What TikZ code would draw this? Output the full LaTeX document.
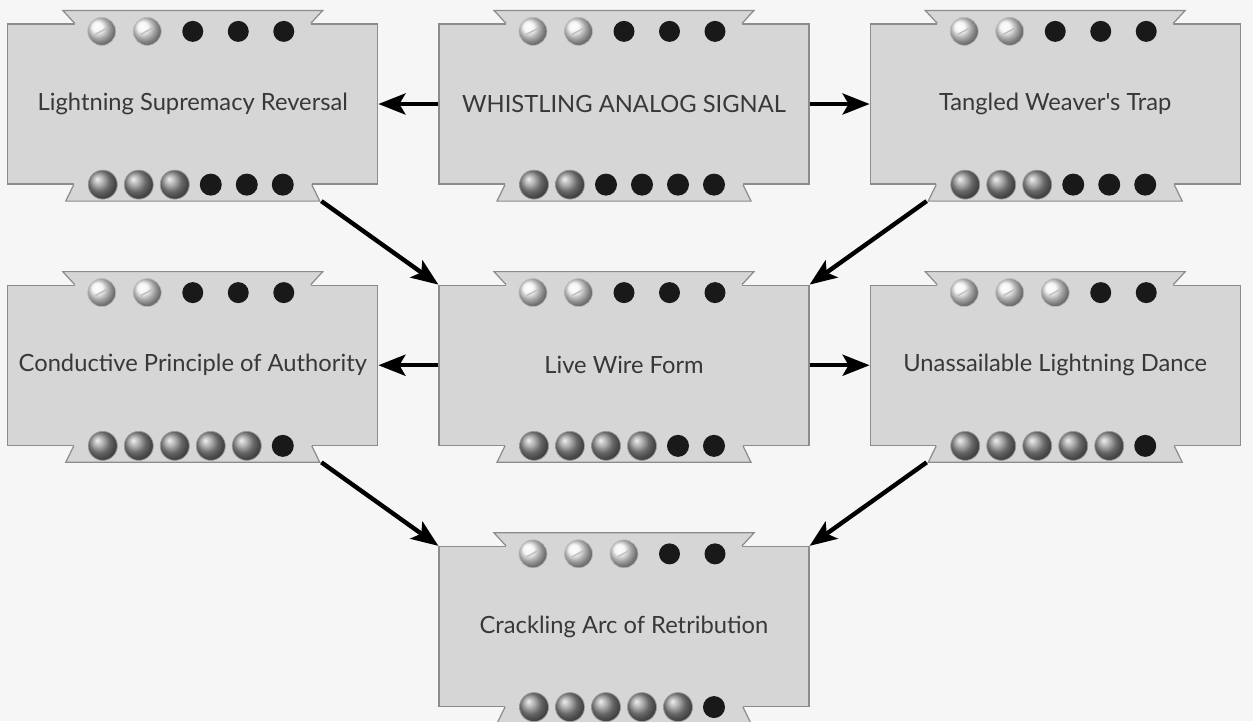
\documentclass[tikz,border=0pt]{standalone}
\usepackage{fontspec}
\usepackage{tikz}
\usetikzlibrary{positioning, arrows.meta}
\usepackage{xcolor}
\newfontfamily\skillfont{Lato}
\definecolor{paper}{RGB}{246,246,246}
\definecolor{boxgray}{RGB}{214,214,214}
\definecolor{edgegray}{RGB}{140,140,140}

\begin{document}
\begin{tikzpicture}[
    node distance=2cm and 1.2cm,
    skill/.style={rectangle, draw=edgegray, line width=0.7pt, fill=boxgray, minimum width=7.4cm, minimum height=3.2cm, inner sep=0pt, text=black!78, font=\skillfont\fontsize{13.5}{16}\selectfont},
    tabfill/.style={fill=boxgray},
    tabline/.style={draw=edgegray, line width=0.7pt},
    emptydot/.style={shading=ball, ball color=gray!10, draw=gray!55, line width=0.4pt},
    fulldot/.style={shading=ball, ball color=black!42, draw=gray!80, line width=0.4pt},
    blackdot/.style={fill=black!90},
    arrow/.style={-{Stealth[length=5.4mm, width=4.2mm, inset=1.2mm]}, line width=2.5pt}
]
    \fill[paper] (0,0) rectangle (25.06,-14.42);
    \useasboundingbox (0,0) rectangle (25.06,-14.42);

    % Nodes
    \node[skill] (whistle) at (12.48,-2.08) {WHISTLING ANALOG SIGNAL};
    \node[skill, left=of whistle] (supremacy) {Lightning Supremacy Reversal};
    \node[skill, right=of whistle] (weaver) {Tangled Weaver's Trap};
    \node[skill, below=of whistle] (livewire) {Live Wire Form};
    \node[skill, left=of livewire] (authority) {Conductive Principle of Authority};
    \node[skill, right=of livewire] (dance) {Unassailable Lightning Dance};
    \node[skill, below=of livewire] (retribution) {Crackling Arc of Retribution};

    % Tabs and sockets
    \foreach \n/\t/\b in {supremacy/2/3, whistle/2/2, weaver/2/3, authority/2/5, livewire/2/4, dance/3/5, retribution/3/5} {
        \path[tabfill] ([xshift=-2.36cm, yshift=-1pt]\n.north) -- ++(0,1pt) -- ++(-0.24,0.26) -- ++(5.2,0) -- ++(-0.24,-0.26) -- ++(0,-1pt) -- cycle;
        \draw[tabline] ([xshift=-2.36cm]\n.north) -- ++(-0.24,0.26) -- ++(5.2,0) -- ++(-0.24,-0.26);
        \path[tabfill] ([xshift=-2.38cm, yshift=1pt]\n.south) -- ++(0,-1pt) -- ++(-0.16,-0.33) -- ++(5.08,0) -- ++(-0.16,0.33) -- ++(0,1pt) -- cycle;
        \draw[tabline] ([xshift=-2.38cm]\n.south) -- ++(-0.16,-0.33) -- ++(5.08,0) -- ++(-0.16,0.33);
        \foreach \i in {1,...,5} {
            \ifnum\i>\t
                \fill[blackdot] ([xshift=(\i-3)*0.91cm, yshift=-0.16cm]\n.north) circle (0.21cm);
            \else
                \shade[emptydot] ([xshift=(\i-3)*0.91cm, yshift=-0.16cm]\n.north) circle (0.28cm);
                \draw[gray!50, line width=0.8pt] ([xshift=(\i-3)*0.91cm-0.13cm, yshift=-0.22cm]\n.north) -- ++(0.24,0.13);
            \fi
        }
        \foreach \i in {1,...,6} {
            \ifnum\i>\b
                \fill[blackdot] ([xshift=(\i-3.5)*0.72cm]\n.south) circle (0.22cm);
            \else
                \shade[fulldot] ([xshift=(\i-3.5)*0.72cm]\n.south) circle (0.29cm);
            \fi
        }
    }

    % Edges
    \draw[arrow] (whistle) -- (supremacy);
    \draw[arrow] (whistle) -- (weaver);
    \draw[arrow] ([xshift=-1.14cm, yshift=-0.33cm]supremacy.south east) -- (livewire.north west);
    \draw[arrow] ([xshift=1.14cm, yshift=-0.33cm]weaver.south west) -- (livewire.north east);
    \draw[arrow] (livewire) -- (authority);
    \draw[arrow] (livewire) -- (dance);
    \draw[arrow] ([xshift=-1.14cm, yshift=-0.33cm]authority.south east) -- (retribution.north west);
    \draw[arrow] ([xshift=1.14cm, yshift=-0.33cm]dance.south west) -- (retribution.north east);
\end{tikzpicture}
\end{document}
